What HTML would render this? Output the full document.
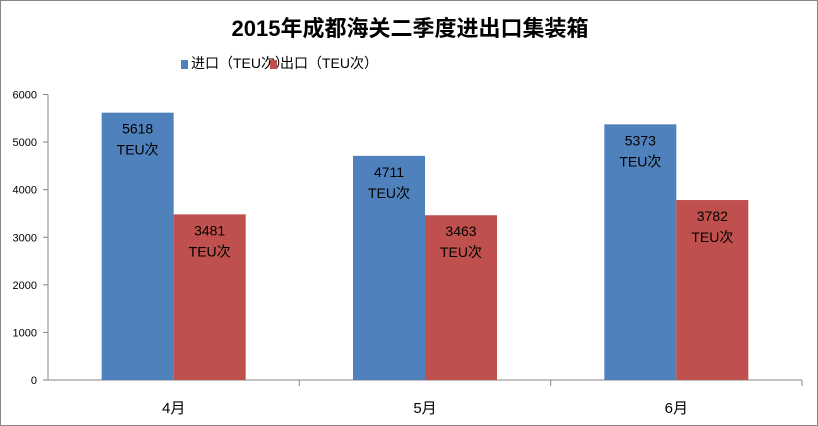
<!DOCTYPE html>
<html><head><meta charset="utf-8"><style>
html,body{margin:0;padding:0;background:#fff}
svg{display:block}
text{font-family:"Liberation Sans","Noto Sans CJK SC",sans-serif}
</style></head><body>
<svg id="chart" width="818" height="426" viewBox="0 0 818 426">
<rect x="0.5" y="0.5" width="817" height="425" fill="#fff" stroke="#868686"/>
<text x="410" y="36" text-anchor="middle" font-size="22" font-weight="bold" fill="#000">2015年成都海关二季度进出口集装箱</text>
<g>
<g><rect x="181" y="60" width="7" height="9" fill="#4f81bd"/><text x="191" y="68" font-size="14" fill="#000">进口（TEU次）</text></g>
<g><rect x="270" y="60" width="7" height="9" fill="#c0504d"/><text x="280" y="68" font-size="14" fill="#000">出口（TEU次）</text></g>
</g>
<g id="axes"></g>
<g id="bars"></g>
</svg>
<script>
const categories = ["4月","5月","6月"];
const importValues = [5618,4711,5373];
const exportValues = [3481,3463,3782];
const yTicks = [0,1000,2000,3000,4000,5000,6000];
const NS="http://www.w3.org/2000/svg";
const x0=48,x1=802,y0=380,yTop=94.5,yMax=6000;
const y=v=>y0-(v/yMax)*(y0-yTop);
const bandW=(x1-x0)/categories.length;
const barW=72;
function mk(tag,attrs,parent){const e=document.createElementNS(NS,tag);for(const k in attrs)e.setAttribute(k,attrs[k]);parent.appendChild(e);return e;}
const axes=document.getElementById('axes'),bars=document.getElementById('bars');
const yAxis=mk('line',{x1:x0,y1:yTop,x2:x0,y2:y0,stroke:'#868686'},axes);


yTicks.forEach(t=>{
 const l=mk('line',{x1:x0-5,x2:x0,y1:y(t),y2:y(t),stroke:'#868686'},axes);
 
 
 const tx=mk('text',{x:x0-11,y:y(t)+4,'text-anchor':'end','font-size':'11',fill:'#000'},axes);
 tx.textContent=t;
 
 
});
const xAxis=mk('line',{x1:x0,y1:y0,x2:x1,y2:y0,stroke:'#868686'},axes);


categories.forEach((c,i)=>{
 const tx0=x0+bandW*(i+1);
 const tk=mk('line',{x1:tx0,x2:tx0,y1:y0,y2:y0+6,stroke:'#868686'},axes);
 
 
 const cx=x0+bandW*(i+0.5);
 const lb=mk('text',{x:cx,y:413,'text-anchor':'middle','font-size':'15',fill:'#000'},axes);
 lb.textContent=c;
 
 
 [[importValues[i],'#4f81bd',cx-barW,'import'],[exportValues[i],'#c0504d',cx,'export']].forEach(([v,col,bx,nm])=>{
  const r=mk('rect',{x:bx,y:y(v),width:barW,height:y0-y(v),fill:col},bars);
  
  
  const t1=mk('text',{x:bx+barW/2,y:y(v)+21,'text-anchor':'middle','font-size':'14',fill:'#000'},bars);
  t1.textContent=v;
  
  
  const t2=mk('text',{x:bx+barW/2,y:y(v)+42,'text-anchor':'middle','font-size':'14',fill:'#000'},bars);
  t2.textContent='TEU次';
  
  
 });
});
</script>
</body></html>
